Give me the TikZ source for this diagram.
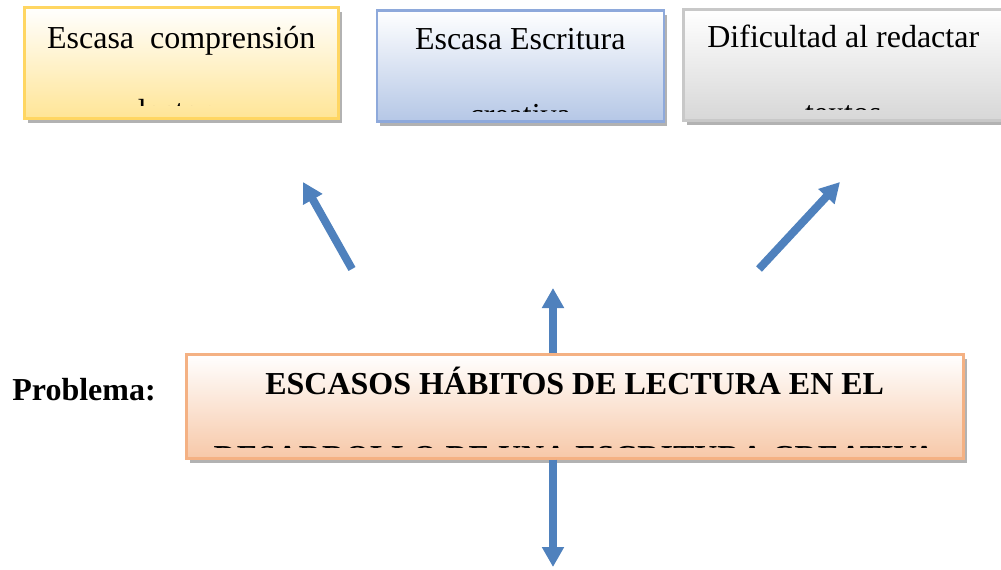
\documentclass[tikz,border=0pt]{standalone}
\usepackage{fontspec}
\setmainfont{Liberation Serif}
\usetikzlibrary{arrows.meta, positioning, shadows}

\definecolor{amarilloborde}{RGB}{255,214,98}
\definecolor{amarillofondo}{RGB}{255,229,150}
\definecolor{azulborde}{RGB}{142,169,219}
\definecolor{azulfondo}{RGB}{181,199,230}
\definecolor{grisborde}{RGB}{200,200,200}
\definecolor{grisfondo}{RGB}{215,215,215}
\definecolor{naranjaborde}{RGB}{244,177,131}
\definecolor{naranjafondo}{RGB}{247,200,168}
\definecolor{flecha}{RGB}{79,129,189}

\tikzset{
  caja/.style={draw, rectangle, line width=0.05cm, inner sep=0pt, minimum height=2.22cm, top color=white,
    drop shadow={shadow xshift=0.07cm, shadow yshift=-0.09cm, fill=black!55, opacity=0.55}},
  texto/.style={font=\fontsize{18.2pt}{22pt}\selectfont, inner sep=0pt, anchor=base},
  textonegrita/.style={texto, font=\fontsize{18.2pt}{22pt}\selectfont\bfseries},
  flechaazul/.style={draw=flecha, line width=0.16cm, -{Triangle[width=0.42cm, length=0.4cm]}}
}

\begin{document}
\begin{tikzpicture}
  \useasboundingbox (0,0) rectangle (20.02,-11.4);

  % efectos
  \node [caja, anchor=north west, minimum width=6.28cm, draw=amarilloborde, bottom color=amarillofondo] (comprension) at (0.46,-0.12) {};
  \node [caja, minimum width=5.74cm, draw=azulborde, bottom color=azulfondo, right=0.72cm of comprension, yshift=-0.06cm] (escritura) {};
  \node [caja, minimum width=6.4cm, draw=grisborde, bottom color=grisfondo, right=0.34cm of escritura, yshift=0.02cm] (redaccion) {};

  \node [texto] (comprension1) at ([yshift=-0.84cm]comprension.north) {Escasa\ \ comprensión};
  \begin{scope}
    \clip (comprension.north west) rectangle ([yshift=-1.98cm]comprension.north east);
    \node [texto] (comprension2) at ([yshift=-2.3cm]comprension.north) {lectora};
  \end{scope}

  \node [texto] (escritura1) at ([yshift=-0.8cm]escritura.north) {Escasa Escritura};
  \begin{scope}
    \clip (escritura.north west) rectangle ([yshift=-2.04cm]escritura.north east);
    \node [texto] (escritura2) at ([yshift=-2.32cm]escritura.north) {creativa};
  \end{scope}

  \node [texto] (redaccion1) at ([yshift=-0.78cm]redaccion.north) {Dificultad al redactar};
  \begin{scope}
    \clip (redaccion.north west) rectangle ([yshift=-2.02cm]redaccion.north east);
    \node [texto] (redaccion2) at ([yshift=-2.31cm]redaccion.north) {textos};
  \end{scope}

  % problema
  \node [caja, anchor=north west, minimum width=15.54cm, minimum height=2.08cm, draw=naranjaborde, bottom color=naranjafondo] (habitos) at (3.7,-7.06) {};
  \node [textonegrita] (habitos1) at ([yshift=-0.82cm]habitos.north) {ESCASOS HÁBITOS DE LECTURA EN EL};
  \begin{scope}
    \clip (habitos.north west) rectangle ([yshift=-1.88cm]habitos.north east);
    \node [textonegrita] (habitos2) at ([yshift=-2.29cm]habitos.north) {DESARROLLO DE UNA ESCRITURA CREATIVA};
  \end{scope}
  \node [textonegrita, anchor=base west] (problema) at (0.24,-8.0) {Problema:};

  % flechas
  \coordinate (colaizq) at (7.04,-5.38);
  \coordinate (puntaizq) at (6.06,-3.64);
  \coordinate (colader) at (15.18,-5.38);
  \coordinate (puntader) at (16.8,-3.64);
  \coordinate (puntaarriba) at (11.06,-5.76);
  \coordinate (puntaabajo) at (11.06,-11.34);
  \draw [flechaazul] (colaizq) -- (puntaizq);
  \draw [flechaazul] (colader) -- (puntader);
  \draw [flechaazul] (habitos.north -| puntaarriba) -- (puntaarriba);
  \draw [flechaazul] (habitos.south -| puntaabajo) -- (puntaabajo);
\end{tikzpicture}
\end{document}
